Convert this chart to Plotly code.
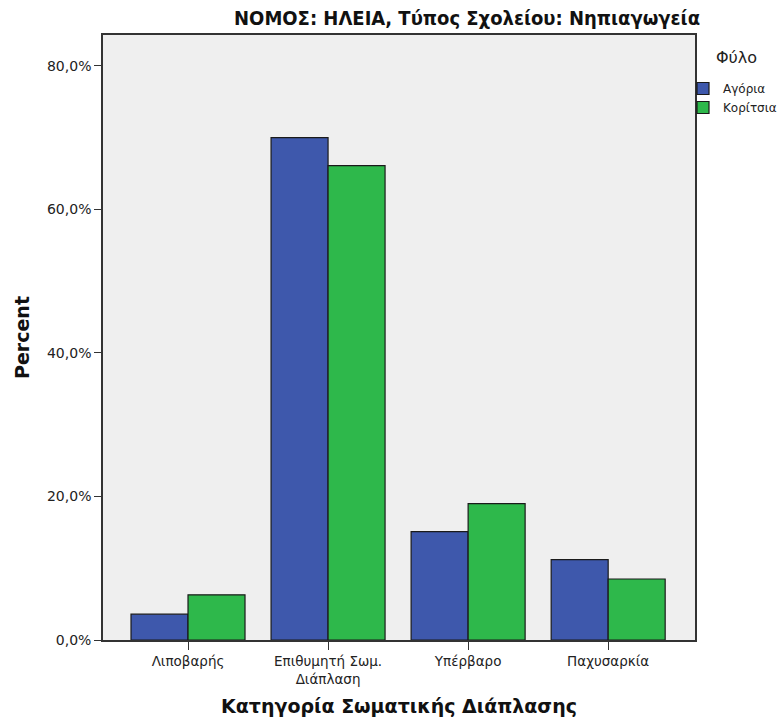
import plotly.graph_objects as go

categories = ["Λιποβαρής", "Επιθυμητή Σωμ.<br>Διάπλαση", "Υπέρβαρο", "Παχυσαρκία"]
boys = [3.6, 70.0, 15.1, 11.2]
girls = [6.3, 66.1, 19.0, 8.5]
tick_vals = [0, 20, 40, 60, 80]
tick_text = ["0,0%", "20,0%", "40,0%", "60,0%", "80,0%"]

fig = go.Figure()
fig.add_trace(go.Bar(x=categories, y=boys, name="Αγόρια",
                     marker=dict(color="#3e58ac", line=dict(color="#1a1a1a", width=1.2))))
fig.add_trace(go.Bar(x=categories, y=girls, name="Κορίτσια",
                     marker=dict(color="#2eb84b", line=dict(color="#1a1a1a", width=1.2))))

L, R, T, B = 103, 83, 35, 88
W, H = 778, 728
pw = W - L - R
ph = H - T - B

fig.update_layout(
    width=W, height=H,
    margin=dict(l=L, r=R, t=T, b=B, autoexpand=False),
    paper_bgcolor="white", plot_bgcolor="#efefef",
    barmode="group", bargap=0.186, bargroupgap=0,
    font=dict(family="DejaVu Sans, sans-serif", size=13.5, color="#222"),
    title=dict(text="<b>ΝΟΜΟΣ: ΗΛΕΙΑ, Τύπος Σχολείου: Νηπιαγωγεία</b>",
               font=dict(family="DejaVu Sans Condensed, DejaVu Sans, sans-serif", size=20, color="#111"),
               x=700 / W, xanchor="right", xref="container", y=1 - 18 / H, yanchor="middle"),
    legend=dict(x=(683 - L) / pw, xanchor="left", y=1 - (74 - T) / ph, yanchor="top",
                bgcolor="rgba(0,0,0,0)",
                font=dict(size=12), itemwidth=30, tracegroupgap=0),
    showlegend=True,
    annotations=[dict(text="Φύλο", xref="paper", yref="paper",
                      x=(736 - L) / pw, y=1 - (57 - T) / ph, xanchor="center", yanchor="middle",
                      showarrow=False, font=dict(size=16, color="#222"))],
)
fig.update_xaxes(showline=True, linecolor="#333", linewidth=1.5, mirror=True,
                 ticks="outside", ticklen=8, tickcolor="#333", automargin=False,
                 range=[-0.607, 3.62],
                 title=dict(text="<b>Κατηγορία Σωματικής Διάπλασης</b>", font=dict(size=19, color="#111"), standoff=14),
                 tickfont=dict(size=13.5))
fig.update_yaxes(showline=True, linecolor="#333", linewidth=1.5, mirror=True,
                 ticks="outside", ticklen=7, tickcolor="#333", showgrid=False, zeroline=False,
                 automargin=False,
                 range=[0, 84.3], tickvals=tick_vals, ticktext=tick_text,
                 title=dict(text="<b>Percent</b>", font=dict(size=19, color="#111"), standoff=12),
                 tickfont=dict(size=14))

fig.write_html("out.html", config={"displayModeBar": False},
               post_script="document.body.style.margin='0';")
